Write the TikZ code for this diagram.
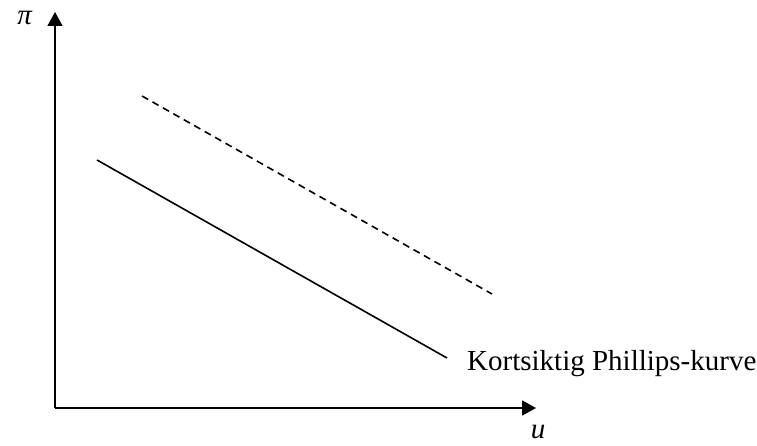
\documentclass[tikz,border=0pt]{standalone}
\usepackage{fontspec}
\setmainfont{Liberation Serif}
\usetikzlibrary{arrows.meta,positioning}

\begin{document}
\begin{tikzpicture}[
      x=1pt, y=-1pt,
      lbl/.style={font=\fontsize{29}{34}\selectfont,inner sep=0pt},
      axis/.style={-{Triangle[length=14pt,width=15pt]},line width=1.8pt},
      curve/.style={line width=1.6pt},
    ]
    \useasboundingbox (0,0) rectangle (757,446);

    % axes
    \coordinate (O) at (55,408);
    \coordinate (ytop) at (55,12);
    \coordinate (xend) at (536,408);
    \draw[axis] (O) -- (ytop);
    \draw[axis] (O) -- (xend);
    \node[lbl,anchor=center] (pi) at (25,18) {\textit{π}};
    \node[lbl,anchor=center] (u) at (538,432) {\textit{u}};

    % Phillips curves
    \coordinate (s1) at (97,160);
    \coordinate (s2) at (447,358);
    \coordinate (d1) at (142,96);
    \coordinate (d2) at (492,294);
    \draw[curve] (s1) -- (s2);
    \draw[curve,dash pattern=on 7pt off 5pt] (d1) -- (d2);

    \node[lbl,anchor=base west] (kpk) at (467,370) {Kortsiktig Phillips-kurve};
  \end{tikzpicture}
\end{document}
